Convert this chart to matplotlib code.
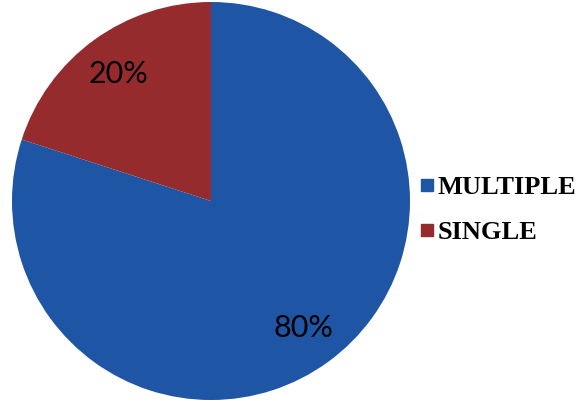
import matplotlib
matplotlib.use("Agg")
import matplotlib.pyplot as plt
from matplotlib.lines import Line2D

categories = ["MULTIPLE", "SINGLE"]
shares = [80, 20]
colors = ["#1F55A5", "#962B2E"]

fig = plt.figure(figsize=(5.87, 4.0), dpi=100)
ax = fig.add_axes([12 / 587, 0.0, 398 / 587, 398 / 400])

wedges, texts, autotexts = ax.pie(
    shares,
    colors=colors,
    startangle=90,
    counterclock=False,
    autopct="%d%%",
    pctdistance=0.79,
    radius=1.0,
    textprops=dict(family=["Lato", "DejaVu Sans"], fontsize=22, color="black"),
)
ax.set_xlim(-1, 1)
ax.set_ylim(-1, 1)

# legend with small square markers in a serif face
handles = [
    Line2D([0], [0], marker="s", linestyle="none", markersize=8,
           markerfacecolor=c, markeredgecolor=c)
    for c in colors
]
fig.legend(
    handles, categories,
    loc="center left",
    bbox_to_anchor=(419.5 / 587, 1 - 210 / 400),
    frameon=False,
    prop=dict(family=["Liberation Serif"], size=19, weight="bold"),
    handlelength=0.6,
    handletextpad=0.1,
    labelspacing=0.8,
    borderpad=0,
    borderaxespad=0,
)

fig.savefig("out.png", dpi=100)
